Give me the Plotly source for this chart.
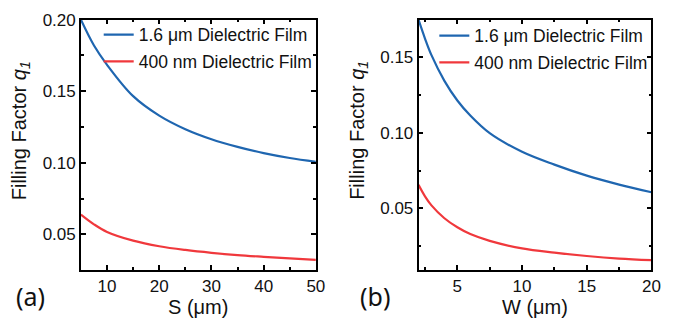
import plotly.graph_objects as go

# Panel (a): filling factor vs S
S_um = [5, 7.5, 10, 15, 20, 25, 30, 35, 40, 45, 50]
qS_1600nm = [0.200, 0.182, 0.1685, 0.1466, 0.133, 0.1235, 0.1165, 0.1112, 0.1068, 0.1034, 0.1008]
qS_400nm = [0.0639, 0.0571, 0.0518, 0.0457, 0.0418, 0.0392, 0.0372, 0.0356, 0.0344, 0.0333, 0.0323]

# Panel (b): filling factor vs W
W_um = [2, 2.5, 3, 4, 5, 6, 7.5, 10, 12.5, 15, 17.5, 20]
qW_1600nm = [0.175, 0.1625, 0.1515, 0.1345, 0.1215, 0.1115, 0.0998, 0.0875, 0.0790, 0.0717, 0.0658, 0.0607]
qW_400nm = [0.0656, 0.0580, 0.0520, 0.0435, 0.0375, 0.0330, 0.0285, 0.0235, 0.0207, 0.0185, 0.0168, 0.0157]

names = ["1.6 \u03bcm Dielectric Film", "400 nm Dielectric Film"]
BLUE = "#1f66b0"
RED = "#f0383c"
FONT = "Liberation Sans, Arial, sans-serif"

W_PX, H_PX = 697, 325
def px_x(p): return p / W_PX
def px_y(p): return 1 - p / H_PX

fig = go.Figure()
fig.add_trace(go.Scatter(x=S_um, y=qS_1600nm, mode="lines", line=dict(color=BLUE, width=2.2, shape="spline"),
                         name=names[0], xaxis="x", yaxis="y", legend="legend", legendgroup="a1"))
fig.add_trace(go.Scatter(x=S_um, y=qS_400nm, mode="lines", line=dict(color=RED, width=2.2, shape="spline"),
                         name=names[1], xaxis="x", yaxis="y", legend="legend", legendgroup="a2"))
fig.add_trace(go.Scatter(x=W_um, y=qW_1600nm, mode="lines", line=dict(color=BLUE, width=2.2, shape="spline"),
                         name=names[0], xaxis="x2", yaxis="y2", legend="legend2", legendgroup="b1"))
fig.add_trace(go.Scatter(x=W_um, y=qW_400nm, mode="lines", line=dict(color=RED, width=2.2, shape="spline"),
                         name=names[1], xaxis="x2", yaxis="y2", legend="legend2", legendgroup="b2"))

axis_common = dict(showline=True, linecolor="black", linewidth=1.6, mirror="allticks",
                   ticks="inside", ticklen=5, tickwidth=1.5, tickcolor="black",
                   showgrid=False, zeroline=False,
                   tickfont=dict(family=FONT, size=17, color="#111"))

ydom = [px_y(268), px_y(11)]
fig.update_layout(
    width=W_PX, height=H_PX, margin=dict(l=0, r=0, t=0, b=0),
    paper_bgcolor="white", plot_bgcolor="white",
    xaxis=dict(domain=[px_x(82), px_x(320)], range=[5, 50], tick0=0, dtick=10,
               minor=dict(ticks="inside", ticklen=3, dtick=5, tick0=0, tickcolor="black", tickwidth=1.5),
               anchor="y", **axis_common),
    yaxis=dict(domain=ydom, range=[0.0255, 0.2], tick0=0, dtick=0.05, tickformat=".2f",
               minor=dict(ticks="inside", ticklen=3, dtick=0.025, tick0=0, tickcolor="black", tickwidth=1.5),
               anchor="x", **axis_common),
    xaxis2=dict(domain=[px_x(424), px_x(660)], range=[2, 20], tick0=0, dtick=5,
                minor=dict(ticks="inside", ticklen=3, dtick=2.5, tick0=0, tickcolor="black", tickwidth=1.5),
                anchor="y2", **axis_common),
    yaxis2=dict(domain=ydom, range=[0.0095, 0.175], tick0=0, dtick=0.05, tickformat=".2f",
                minor=dict(ticks="inside", ticklen=3, dtick=0.025, tick0=0, tickcolor="black", tickwidth=1.5),
                anchor="x2", **axis_common),
    legend=dict(x=px_x(100), y=px_y(8), xanchor="left", yanchor="top", bgcolor="rgba(0,0,0,0)",
                font=dict(family=FONT, size=17.5, color="#111"), tracegroupgap=1, itemwidth=30),
    legend2=dict(x=px_x(440), y=px_y(9), xanchor="left", yanchor="top", bgcolor="rgba(0,0,0,0)",
                 font=dict(family=FONT, size=17.5, color="#111"), tracegroupgap=1, itemwidth=30),
    showlegend=True,
)

ann_font = dict(family=FONT, size=20, color="#111")
annotations = [
    dict(text="Filling Factor <i>q<sub>1</sub></i>", x=px_x(21), y=px_y(125), textangle=-90, font=ann_font),
    dict(text="Filling Factor <i>q<sub>1</sub></i>", x=px_x(363), y=px_y(125), textangle=-90, font=ann_font),
    dict(text="S (\u03bcm)", x=px_x(201), y=px_y(306), font=ann_font),
    dict(text="W (\u03bcm)", x=px_x(542), y=px_y(306), font=ann_font),
    dict(text="(a)", x=px_x(31), y=px_y(295), font=dict(family="Noto Sans", size=25, color="#111")),
    dict(text="(b)", x=px_x(380), y=px_y(295), font=dict(family="Noto Sans", size=25, color="#111")),
]
for a in annotations:
    a.update(xref="paper", yref="paper", showarrow=False, xanchor="center", yanchor="middle")
fig.update_layout(annotations=annotations)

fig.write_html("out.html")
